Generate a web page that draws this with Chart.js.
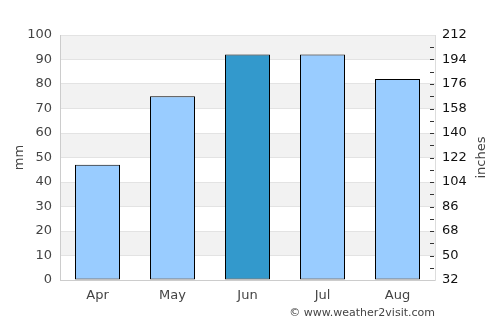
<!DOCTYPE html>
<html>
<head>
<meta charset="utf-8">
<script src="https://cdn.jsdelivr.net/npm/chart.js@4"></script>
<style>
  body { margin: 0; background: #fff; }
  #rain { display: block; }
</style>
</head>
<body>
<canvas id="rain" width="500" height="325"></canvas>
<script>
const months = ['Apr', 'May', 'Jun', 'Jul', 'Aug'];
const rainfall = [47, 75, 92, 92, 82];
const wettest = 'Jun';
const rightTicks = [32, 50, 68, 86, 104, 122, 140, 158, 176, 194, 212];

Chart.defaults.font.family = 'DejaVu Sans';
Chart.defaults.font.size = 13;
Chart.defaults.color = '#444';

// grey bands behind the bars, every other 10 mm
const bands = {
    id: 'bands',
    beforeDraw(chart) {
        const c = chart.ctx, a = chart.chartArea, y = chart.scales.y;
        c.save();
        c.fillStyle = '#fff';
        c.fillRect(0, 0, chart.width, chart.height);
        c.fillStyle = '#f2f2f2';
        for (let v = 10; v < 100; v += 20) {
            const top = y.getPixelForValue(v + 10), bot = y.getPixelForValue(v);
            c.fillRect(a.left, top, a.right - a.left, bot - top);
        }
        c.restore();
    },
    afterDraw(chart) {
        const c = chart.ctx, a = chart.chartArea, r = chart.scales.y2;
        c.save();
        // small tick marks on the inside of the right edge
        c.strokeStyle = '#333';
        c.lineWidth = 1;
        for (let v = 41; v < 212; v += 9) {
            const py = Math.round(r.getPixelForValue(v)) + 0.5;
            c.beginPath();
            c.moveTo(a.right - 5, py);
            c.lineTo(a.right - 1, py);
            c.stroke();
        }
        c.fillStyle = '#444';
        c.font = '13px DejaVu Sans';
        c.textAlign = 'center';
        c.textBaseline = 'middle';
        c.translate(482, (a.top + a.bottom) / 2);
        c.rotate(-Math.PI / 2);
        c.fillText('inches', 0, 0);
        c.restore();
        c.save();
        c.fillStyle = '#444';
        c.font = '11px DejaVu Sans';
        c.textAlign = 'right';
        c.textBaseline = 'middle';
        c.fillText('\u00a9 www.weather2visit.com', a.right, 313);
        c.restore();
    }
};

new Chart(document.getElementById('rain'), {
    type: 'bar',
    data: {
        labels: months,
        datasets: [{
            data: rainfall,
            backgroundColor: months.map(m => m === wettest ? '#3399cc' : '#99ccff'),
            borderColor: '#000',
            borderWidth: 1,
            borderSkipped: false,
            barPercentage: 0.6,
            categoryPercentage: 1
        }]
    },
    plugins: [bands],
    options: {
        responsive: false,
        animation: false,
        layout: { padding: { top: 35, bottom: 0, left: 0, right: 0 } },
        plugins: { legend: { display: false }, tooltip: { enabled: false } },
        scales: {
            x: {
                grid: { display: false, drawTicks: false },
                border: { color: '#ccc' },
                ticks: { padding: 8, color: '#444' },
                afterFit: s => { s.height = 45; }
            },
            y: {
                min: 0,
                max: 100,
                ticks: { stepSize: 10, padding: 8, color: '#444' },
                grid: { color: '#e3e3e3', drawTicks: false },
                border: { color: '#ccc' },
                title: { display: true, text: 'mm', color: '#444', padding: { top: 12, bottom: 0 } },
                afterFit: s => { s.width = 60; }
            },
            y2: {
                position: 'right',
                min: 32,
                max: 212,
                afterBuildTicks: s => { s.ticks = rightTicks.map(v => ({ value: v })); },
                ticks: { padding: 7, color: '#111' },
                grid: { drawOnChartArea: false, drawTicks: false },
                border: { color: '#ddd' },
                afterFit: s => { s.width = 65; }
            }
        }
    }
});
</script>
</body>
</html>
